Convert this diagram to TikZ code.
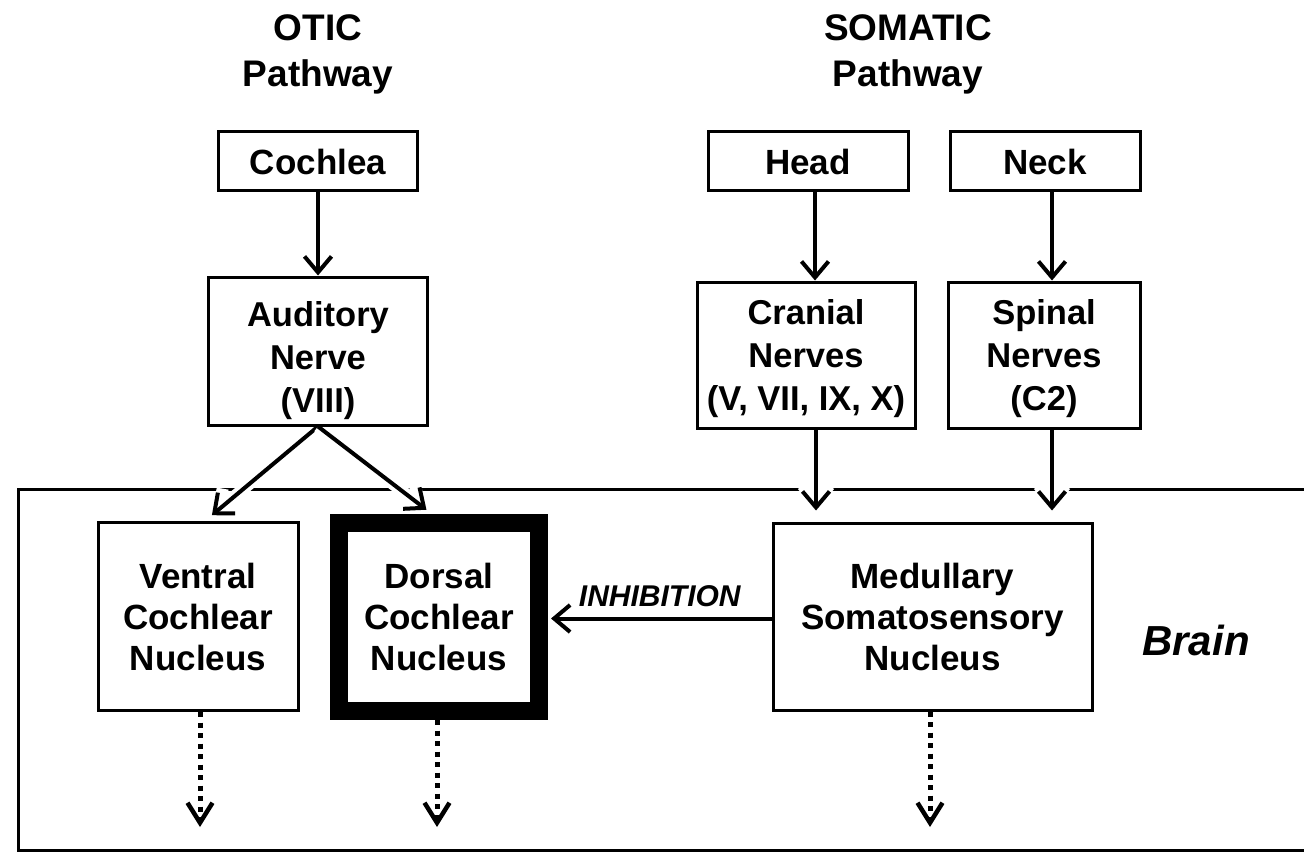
\documentclass[tikz,border=0pt]{standalone}
\usepackage{fontspec}
\setmainfont{Liberation Sans}
\usetikzlibrary{arrows.meta,calc}
\pgfdeclarelayer{back}
\pgfdeclarelayer{mid}
\pgfsetlayers{back,mid,main}

\begin{document}
\begin{tikzpicture}[x=1pt,y=-1pt,
  lbl/.style={font=\fontsize{35}{41}\selectfont\bfseries, align=center, inner sep=0pt},
  nervelbl/.style={font=\fontsize{34.5}{43}\selectfont\bfseries, align=center, inner sep=0pt},
  box/.style={lbl, draw, line width=3pt},
  frame/.style={draw, line width=3pt, inner sep=0pt},
  title/.style={font=\fontsize{37}{46}\selectfont\bfseries, align=center, inner sep=0pt},
  conn/.style={line width=4pt, -{Straight Barb[length=16pt,width=27pt]}},
  halo/.style={preaction={draw=white, line width=12pt}},
  dotarrow/.style={line width=5pt, dash pattern=on 5pt off 5.5pt,
    -{Straight Barb[length=20pt,width=25pt,line width=4.5pt]}}
]
\useasboundingbox (0,0) rectangle (1304,853);
\clip (0,0) rectangle (1304,853);

% pathway titles
\node (otic) [title] at (318,54) {OTIC\\Pathway};
\node (soma) [title] at (908,54) {SOMATIC\\Pathway};

% peripheral inputs
\node (coc) [box, minimum width=199pt, minimum height=59pt] at (318,161.5) {Cochlea};
\node (head) [box, minimum width=200pt, minimum height=59pt] at (808,161.5) {Head};
\node (neck) [box, minimum width=190pt, minimum height=59pt] at (1045,161.5) {Neck};

% nerves (text sits a little below the box centre)
\node (aud) [frame, minimum width=219pt, minimum height=148pt,
  label={[nervelbl, yshift=-10pt]center:Auditory\\Nerve\\(VIII)}] at (318,351) {};
\node (cra) [frame, minimum width=218pt, minimum height=146pt,
  label={[nervelbl, yshift=-4pt]center:Cranial\\Nerves\\(V, VII, IX, X)}] at (806,355) {};
\node (spi) [frame, minimum width=192pt, minimum height=146pt,
  label={[nervelbl, yshift=-4pt]center:Spinal\\Nerves\\(C2)}] at (1044,355) {};

% brainstem nuclei
\node (ven) [box, minimum width=200pt, minimum height=188pt] at (198,616.5) {Ventral\\Cochlear\\Nucleus};
\node (dor) [lbl, draw, line width=18pt, minimum width=200pt, minimum height=188pt] at (439,617) {Dorsal\\Cochlear\\Nucleus};
\node (med) [box, minimum width=319pt, minimum height=187pt] at (932.5,616.5) {Medullary\\Somatosensory\\Nucleus};

\node (brain) [font=\fontsize{42}{50}\selectfont\bfseries\itshape, inner sep=0pt] at (1196,640) {Brain};

% brain outline, open to the right
\begin{pgfonlayer}{back}
  \draw[line width=3pt] (1320,489) -- (18,489) -- (18,850) -- (1320,850);
\end{pgfonlayer}

% pathways
\begin{pgfonlayer}{mid}
  \draw[conn] (coc) -- (aud);
  \draw[conn, halo, shorten >=9pt] (aud.south) -- ($(ven.north)+(7,0)$);
  \draw[conn, halo, shorten >=7pt] (aud.south) -- ($(dor.north)+(-7,0)$);
  \draw[conn] ([xshift=7pt]head.south) -- ([xshift=7pt]head.south |- cra.north);
  \draw[conn] ([xshift=7pt]neck.south) -- ([xshift=7pt]neck.south |- spi.north);
  \draw[conn, halo, shorten >=11pt] ([xshift=10pt]cra.south) -- ([xshift=10pt]cra.south |- med.north);
  \draw[conn, halo, shorten >=11pt] ([xshift=8pt]spi.south) -- ([xshift=8pt]spi.south |- med.north);
  \draw[conn, shorten >=3pt] ([yshift=-2pt]med.west) -- node[above=10pt, font=\fontsize{30}{34}\selectfont\bfseries\itshape, inner sep=0pt] {INHIBITION} ([yshift=-2pt]med.west -| dor.east);
\end{pgfonlayer}

% onward projections
\coordinate (venOut) at (200,827);
\coordinate (dorOut) at (437,827);
\coordinate (medOut) at (930,827);
\draw[dotarrow] (ven.south -| venOut) -- (venOut);
\draw[dotarrow] (dor.south -| dorOut) -- (dorOut);
\draw[dotarrow] (med.south -| medOut) -- (medOut);
\end{tikzpicture}
\end{document}
